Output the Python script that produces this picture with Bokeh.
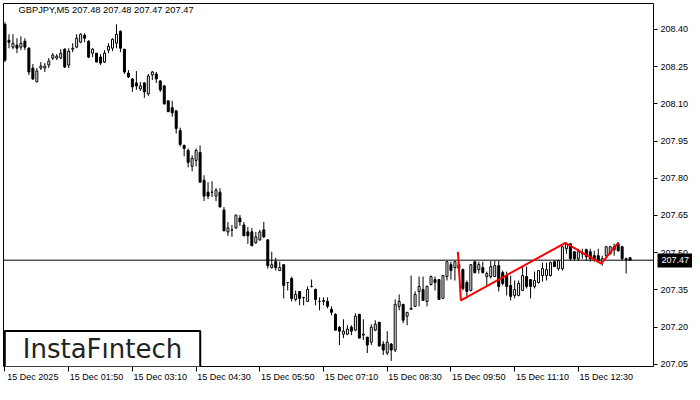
from bokeh.plotting import figure
from bokeh.models import (Range1d, LinearAxis, FixedTicker, Label, ColumnDataSource,
                          Span, PrintfTickFormatter)
from bokeh.embed import file_html
from bokeh.resources import INLINE

# ---------------- data ----------------
chart_title = "GBPJPY,M5  207.48 207.48 207.47 207.47"

opens = [208.420, 208.356, 208.328, 208.336, 208.328, 208.352, 208.324, 208.244, 208.188, 208.244,
         208.244, 208.256, 208.284, 208.284, 208.284, 208.320, 208.256, 208.320, 208.328, 208.348,
         208.376, 208.352, 208.304, 208.304, 208.288, 208.268, 208.316, 208.324, 208.344, 208.392,
         208.320, 208.224, 208.200, 208.184, 208.160, 208.184, 208.140, 208.216, 208.220, 208.192,
         208.172, 208.112, 208.084, 208.072, 207.992, 207.932, 207.912, 207.848, 207.872, 207.904,
         207.792, 207.744, 207.744, 207.728, 207.744, 207.672, 207.584, 207.592, 207.600, 207.640,
         207.612, 207.584, 207.584, 207.540, 207.552, 207.592, 207.552, 207.440, 207.464, 207.428,
         207.452, 207.380, 207.396, 207.312, 207.344, 207.320, 207.304, 207.364, 207.352, 207.304,
         207.304, 207.304, 207.272, 207.252, 207.200, 207.172, 207.172, 207.200, 207.188, 207.252,
         207.168, 207.160, 207.140, 207.188, 207.220, 207.132, 207.096, 207.132, 207.108, 207.284,
         207.292, 207.244, 207.272, 207.284, 207.344, 207.352, 207.304, 207.372, 207.392, 207.392,
         207.316, 207.404, 207.452, 207.440, 207.452, 207.432, 207.380, 207.348, 207.464, 207.432,
         207.440, 207.404, 207.404, 207.404, 207.448, 207.420, 207.408, 207.368, 207.328, 207.328,
         207.348, 207.404, 207.392, 207.364, 207.380, 207.408, 207.408, 207.408, 207.464, 207.436,
         207.436, 207.516, 207.536, 207.504, 207.476, 207.496, 207.512, 207.504, 207.488, 207.488,
         207.464, 207.488, 207.496, 207.524, 207.536, 207.524, 207.476, 207.480]

highs = [208.428, 208.380, 208.380, 208.364, 208.372, 208.364, 208.328, 208.260, 208.244, 208.268,
         208.264, 208.284, 208.304, 208.300, 208.320, 208.324, 208.324, 208.344, 208.380, 208.384,
         208.384, 208.356, 208.324, 208.304, 208.300, 208.316, 208.344, 208.364, 208.420, 208.396,
         208.320, 208.236, 208.204, 208.232, 208.188, 208.188, 208.220, 208.232, 208.228, 208.196,
         208.176, 208.112, 208.112, 208.072, 208.004, 207.936, 207.920, 207.892, 207.920, 207.932,
         207.812, 207.784, 207.788, 207.760, 207.760, 207.684, 207.624, 207.612, 207.652, 207.652,
         207.624, 207.604, 207.600, 207.584, 207.592, 207.624, 207.552, 207.504, 207.480, 207.464,
         207.452, 207.380, 207.404, 207.348, 207.344, 207.320, 207.364, 207.392, 207.356, 207.320,
         207.320, 207.320, 207.284, 207.256, 207.204, 207.232, 207.208, 207.208, 207.256, 207.252,
         207.232, 207.160, 207.212, 207.228, 207.220, 207.144, 207.184, 207.136, 207.312, 207.332,
         207.292, 207.260, 207.408, 207.344, 207.404, 207.404, 207.368, 207.408, 207.404, 207.392,
         207.408, 207.464, 207.464, 207.464, 207.464, 207.436, 207.388, 207.452, 207.464, 207.464,
         207.464, 207.424, 207.468, 207.468, 207.468, 207.428, 207.424, 207.408, 207.388, 207.388,
         207.444, 207.444, 207.392, 207.424, 207.428, 207.460, 207.460, 207.464, 207.468, 207.472,
         207.528, 207.536, 207.536, 207.504, 207.516, 207.516, 207.516, 207.516, 207.508, 207.516,
         207.488, 207.528, 207.528, 207.536, 207.544, 207.528, 207.480, 207.480]

lows = [208.268, 208.324, 208.320, 208.304, 208.316, 208.316, 208.216, 208.196, 208.188, 208.236,
        208.228, 208.244, 208.276, 208.276, 208.280, 208.244, 208.244, 208.308, 208.324, 208.344,
        208.348, 208.284, 208.288, 208.268, 208.256, 208.264, 208.304, 208.312, 208.324, 208.308,
        208.220, 208.204, 208.148, 208.156, 208.152, 208.124, 208.132, 208.196, 208.184, 208.148,
        208.096, 208.068, 208.048, 207.980, 207.928, 207.888, 207.844, 207.828, 207.848, 207.784,
        207.708, 207.716, 207.724, 207.708, 207.684, 207.588, 207.568, 207.564, 207.596, 207.608,
        207.568, 207.536, 207.528, 207.536, 207.548, 207.560, 207.436, 207.436, 207.428, 207.428,
        207.316, 207.348, 207.304, 207.304, 207.288, 207.288, 207.304, 207.360, 207.288, 207.268,
        207.288, 207.276, 207.248, 207.188, 207.128, 207.156, 207.168, 207.168, 207.184, 207.156,
        207.148, 207.096, 207.128, 207.184, 207.124, 207.088, 207.088, 207.064, 207.100, 207.268,
        207.216, 207.208, 207.272, 207.284, 207.284, 207.308, 207.284, 207.368, 207.348, 207.312,
        207.316, 207.388, 207.392, 207.388, 207.428, 207.348, 207.316, 207.344, 207.416, 207.416,
        207.416, 207.364, 207.396, 207.404, 207.344, 207.368, 207.328, 207.308, 207.316, 207.324,
        207.348, 207.356, 207.316, 207.356, 207.376, 207.384, 207.388, 207.404, 207.444, 207.428,
        207.428, 207.496, 207.468, 207.468, 207.468, 207.476, 207.468, 207.464, 207.464, 207.464,
        207.448, 207.484, 207.492, 207.488, 207.504, 207.468, 207.416, 207.470]

closes = [208.276, 208.348, 208.344, 208.324, 208.344, 208.328, 208.228, 208.200, 208.232, 208.252,
          208.252, 208.272, 208.296, 208.292, 208.304, 208.248, 208.312, 208.324, 208.364, 208.380,
          208.364, 208.288, 208.320, 208.268, 208.264, 208.304, 208.332, 208.360, 208.380, 208.324,
          208.228, 208.208, 208.168, 208.172, 208.172, 208.148, 208.212, 208.228, 208.200, 208.156,
          208.100, 208.068, 208.064, 208.000, 207.936, 207.920, 207.864, 207.880, 207.912, 207.784,
          207.728, 207.728, 207.744, 207.752, 207.684, 207.588, 207.600, 207.592, 207.652, 207.624,
          207.568, 207.568, 207.528, 207.564, 207.584, 207.564, 207.448, 207.452, 207.440, 207.440,
          207.368, 207.380, 207.316, 207.332, 207.316, 207.320, 207.352, 207.364, 207.312, 207.304,
          207.308, 207.284, 207.260, 207.188, 207.184, 207.184, 207.192, 207.184, 207.244, 207.156,
          207.172, 207.128, 207.200, 207.212, 207.124, 207.108, 207.140, 207.108, 207.292, 207.304,
          207.228, 207.260, 207.276, 207.332, 207.364, 207.308, 207.364, 207.404, 207.380, 207.312,
          207.408, 207.464, 207.428, 207.464, 207.436, 207.356, 207.344, 207.452, 207.420, 207.452,
          207.420, 207.416, 207.444, 207.448, 207.364, 207.376, 207.364, 207.324, 207.352, 207.376,
          207.408, 207.364, 207.364, 207.388, 207.428, 207.436, 207.432, 207.460, 207.444, 207.468,
          207.524, 207.536, 207.476, 207.476, 207.504, 207.496, 207.484, 207.476, 207.476, 207.468,
          207.476, 207.524, 207.524, 207.512, 207.508, 207.476, 207.472, 207.470]

x_tick_bars = [0, 16, 32, 48, 64, 80, 96, 112, 128, 144]
x_tick_labels = ["15 Dec 2025", "15 Dec 01:50", "15 Dec 03:10", "15 Dec 04:30", "15 Dec 05:50",
                 "15 Dec 07:10", "15 Dec 08:30", "15 Dec 09:50", "15 Dec 11:10", "15 Dec 12:30"]
y_ticks = [207.05, 207.20, 207.35, 207.50, 207.65, 207.80, 207.95, 208.10, 208.25, 208.40]
last_price = 207.47

pattern_bars = [113.75, 114.5, 140.75, 149.75, 154.0]
pattern_prices = [207.504, 207.308, 207.540, 207.456, 207.540]

logo_text = "InstaF\u0131ntech"

# ---------------- layout ----------------
W, H = 692, 384
LEFT_B, TOP_B, RIGHT_B, BOTTOM_B = 3, 3, 36, 16
FRAME_W, FRAME_H = W - LEFT_B - RIGHT_B, H - TOP_B - BOTTOM_B
PX_PER_BAR = 4.0
PX_PER_PRICE = 249.6
FONT = "Liberation Sans"
FS = "9px"
LABEL_SHIFT = 7.0     # x labels start at their tick (left aligned)
PRICE_AXIS_W = 35     # width Bokeh gives the price axis (tick 4 + standoff 3 + label)

x0 = -0.375
y_top = 208.504
p = figure(width=W, height=H, output_backend="svg", toolbar_location=None,
           x_axis_location=None, y_axis_location=None,
           x_range=Range1d(x0, x0 + FRAME_W / PX_PER_BAR),
           y_range=Range1d(y_top - FRAME_H / PX_PER_PRICE, y_top),
           min_border_left=LEFT_B, min_border_top=TOP_B,
           min_border_right=RIGHT_B, min_border_bottom=BOTTOM_B)
p.background_fill_color = "white"
p.border_fill_color = "white"
p.outline_line_color = "black"
p.outline_line_width = 1
for g in p.grid:
    g.visible = False

# right price axis
yaxis = LinearAxis(ticker=FixedTicker(ticks=y_ticks),
                   formatter=PrintfTickFormatter(format="%.2f"),
                   major_tick_out=4, major_tick_in=0, minor_tick_out=0, minor_tick_in=0,
                   minor_tick_line_color=None,
                   axis_line_color=None, major_tick_line_color="black",
                   major_label_standoff=3, major_label_text_font=FONT,
                   major_label_text_font_size=FS, major_label_text_color="black")
p.add_layout(yaxis, "right")

# last-price tag: a one-tick axis whose thick tick is the black box,
# reaching back over the price-axis column, with a white label on it
tag_axis = LinearAxis(ticker=FixedTicker(ticks=[last_price]),
                      formatter=PrintfTickFormatter(format="%.2f"),
                      major_tick_in=PRICE_AXIS_W - 1, major_tick_out=1,
                      minor_tick_out=0, minor_tick_in=0, minor_tick_line_color=None,
                      major_tick_line_color="black", major_tick_line_width=14,
                      major_tick_line_cap="butt",
                      axis_line_color=None, major_label_standoff=-(PRICE_AXIS_W - 4),
                      major_label_text_font=FONT, major_label_text_font_size=FS,
                      major_label_text_color="white")
p.add_layout(tag_axis, "right")

# bottom time axis: tick marks
xticks_axis = LinearAxis(ticker=FixedTicker(ticks=x_tick_bars),
                         major_label_overrides={b: "" for b in x_tick_bars},
                         major_tick_out=5, major_tick_in=0, minor_tick_out=0, minor_tick_in=0,
                         minor_tick_line_color=None, axis_line_color=None,
                         major_tick_line_color="black", major_label_standoff=0,
                         major_label_text_font_size="0px")
p.add_layout(xticks_axis, "below")

# bottom time axis: labels, starting at their tick
label_pos = [b + LABEL_SHIFT for b in x_tick_bars]
xlabels_axis = LinearAxis(ticker=FixedTicker(ticks=label_pos),
                          major_label_overrides={b: t for b, t in zip(label_pos, x_tick_labels)},
                          major_tick_out=0, major_tick_in=0, minor_tick_out=0, minor_tick_in=0,
                          major_tick_line_color=None, minor_tick_line_color=None,
                          axis_line_color=None, major_label_standoff=0,
                          major_label_text_font=FONT, major_label_text_font_size=FS,
                          major_label_text_color="black")
p.add_layout(xlabels_axis, "below")

# price line
p.add_layout(Span(location=last_price, dimension="width", line_color="black",
                  line_width=1, level="underlay"))

# candles
idx = list(range(len(opens)))
bull = [i for i in idx if closes[i] >= opens[i]]
bear = [i for i in idx if closes[i] < opens[i]]

p.segment(x0=idx, y0=highs, x1=idx, y1=lows, line_color="black", line_width=1)
bull_src = ColumnDataSource(dict(x=bull, top=[closes[i] for i in bull],
                                 bottom=[opens[i] for i in bull]))
bear_src = ColumnDataSource(dict(x=bear, top=[opens[i] for i in bear],
                                 bottom=[closes[i] for i in bear]))
p.vbar(x="x", top="top", bottom="bottom", width=0.5, source=bull_src,
       fill_color="white", line_color="black", line_width=1)
p.vbar(x="x", top="top", bottom="bottom", width=0.5, source=bear_src,
       fill_color="black", line_color="black", line_width=1)

# pattern
p.line(pattern_bars, pattern_prices, line_color="#ff0000", line_width=2)

# title (screen units are measured from the frame's lower-left corner)
p.add_layout(Label(x=15, y=FRAME_H - 8, x_units="screen", y_units="screen",
                   text=chart_title, text_font=FONT, text_font_size="9.3px",
                   text_color="black", text_baseline="middle", text_align="left"))

# logo
p.add_layout(Label(x=99, y=17.5, x_units="screen", y_units="screen",
                   text=logo_text, text_font="DejaVu Sans", text_font_size="26px",
                   text_color="#222222", text_baseline="middle", text_align="center",
                   background_fill_color="white", border_line_color="black",
                   border_line_width=2, padding=(18, 3)))

open("out.html", "w").write(file_html(p, INLINE))
